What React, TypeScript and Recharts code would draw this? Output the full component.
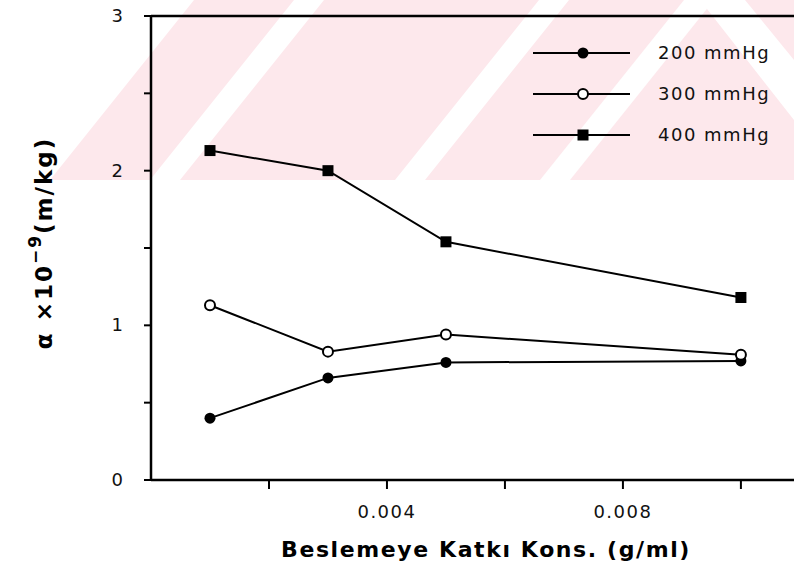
import React from "react";
import { LineChart, Line, XAxis, YAxis, ReferenceLine } from "recharts";

// concentration (g/ml) and alpha x 10^-9 (m/kg) per vacuum level
const conc = [0.001, 0.003, 0.005, 0.01];
const p200 = [0.4, 0.66, 0.76, 0.77];
const p300 = [1.13, 0.83, 0.94, 0.81];
const p400 = [2.13, 2.0, 1.54, 1.18];

const xTicks = [0.002, 0.004, 0.006, 0.008, 0.01];
const xLabels: Record<string, string> = { "0.004": "0.004", "0.008": "0.008" };
const yTicks = [0, 0.5, 1, 1.5, 2, 2.5, 3];
const yLabels: Record<string, string> = { "0": "0", "1": "1", "2": "2", "3": "3" };

const seriesNames = ["200 mmHg", "300 mmHg", "400 mmHg"];
const markers = ["dot", "open", "square"];

const W = 794;
const H = 573;

const data = conc.map((c, i) => ({
  c,
  s200: p200[i],
  s300: p300[i],
  s400: p400[i],
}));

const tickFont = {
  fontFamily: "'DejaVu Sans', sans-serif",
  fontSize: 18,
  letterSpacing: 1.5,
  fill: "#111",
};

const Marker = ({ kind, cx, cy }: { kind: string; cx: number; cy: number }) => {
  if (kind === "square")
    return <rect x={cx - 5.5} y={cy - 5.5} width={11} height={11} fill="#000" />;
  if (kind === "open")
    return <circle cx={cx} cy={cy} r={5} fill="#fff" stroke="#000" strokeWidth={2} />;
  return <circle cx={cx} cy={cy} r={5.5} fill="#000" />;
};

const dotFor = (kind: string) => (props: any) => {
  const { cx, cy, index } = props;
  if (cx == null || cy == null) return <g key={index} />;
  return <Marker key={index} kind={kind} cx={cx} cy={cy} />;
};

const XTick = (props: any) => {
  const { x, payload } = props;
  const label = xLabels[String(payload.value)];
  if (!label) return <g />;
  return (
    <text x={x} y={518} textAnchor="middle" {...tickFont}>
      {label}
    </text>
  );
};

const YTick = (props: any) => {
  const { y, payload } = props;
  const label = yLabels[String(payload.value)];
  if (!label) return <g />;
  return (
    <text x={118} y={y + 6} textAnchor="middle" {...tickFont}>
      {label}
    </text>
  );
};

const LegendBox = () => (
  <svg
    width={260}
    height={120}
    style={{ position: "absolute", left: 533, top: 40, overflow: "visible" }}
  >
    {seriesNames.map((name, i) => {
      const y = 13 + i * 41;
      return (
        <g key={name}>
          <line x1={0} x2={97} y1={y} y2={y} stroke="#000" strokeWidth={2} />
          <Marker kind={markers[i]} cx={50} cy={y} />
          <text x={125} y={y + 6} {...tickFont}>
            {name}
          </text>
        </g>
      );
    })}
  </svg>
);

// faint pink stripes from the scanned page
const Watermark = () => {
  const k = 0.8;
  const band = (b: number, w: number) =>
    `${b},180 ${b + w},180 ${b + w + k * 180},0 ${b + k * 180},0`;
  return (
    <svg width={W} height={H} style={{ position: "absolute", left: 0, top: 0 }}>
      <polygon points={`50,180 ${W},180 ${W},0 ${50 + k * 180},0`} fill="#fde8ec" />
      {[150, 395, 540].map((b) => (
        <polygon key={b} points={band(b, 30)} fill="#fff" />
      ))}
      <polygon points="700,0 745,0 794,60 794,120" fill="#fff" />
    </svg>
  );
};

export default function App() {
  return (
    <div style={{ position: "absolute", left: 0, top: 0, width: W, height: H, background: "#fff" }}>
      <Watermark />
      <div style={{ position: "absolute", left: 0, top: 0 }}>
        <LineChart
          width={W}
          height={H}
          data={data}
          margin={{ top: 16, right: 0, bottom: 0, left: 0 }}
        >
          <XAxis
            dataKey="c"
            type="number"
            domain={[0, 0.0109]}
            allowDataOverflow
            ticks={xTicks}
            tick={<XTick />}
            tickSize={9}
            height={93}
            axisLine={{ stroke: "#000", strokeWidth: 2.5 }}
            tickLine={{ stroke: "#000", strokeWidth: 2 }}
            label={{
              content: () => (
                <text
                  x={486}
                  y={557}
                  textAnchor="middle"
                  fontFamily="'DejaVu Sans', sans-serif"
                  fontWeight="bold"
                  fontSize={22}
                  letterSpacing={1.6}
                  fill="#000"
                >
                  Beslemeye Katkı Kons. (g/ml)
                </text>
              ),
            }}
          />
          <YAxis
            type="number"
            domain={[0, 3]}
            ticks={yTicks}
            tick={<YTick />}
            tickSize={7}
            width={151}
            axisLine={{ stroke: "#000", strokeWidth: 2.5 }}
            tickLine={{ stroke: "#000", strokeWidth: 2 }}
            label={{
              content: () => (
                <text
                  transform="translate(52 243) rotate(-90)"
                  textAnchor="middle"
                  fontFamily="'DejaVu Sans', sans-serif"
                  fontWeight="bold"
                  fontSize={23}
                  letterSpacing={2}
                  fill="#000"
                >
                  α ×10
                  <tspan dy={-11} fontSize={17}>
                    −9
                  </tspan>
                  <tspan dy={11}>(m/kg)</tspan>
                </text>
              ),
            }}
          />
          <ReferenceLine y={3} stroke="#000" strokeWidth={2.5} />
          <Line
            dataKey="s200"
            name={seriesNames[0]}
            stroke="#000"
            strokeWidth={2}
            dot={dotFor("dot")}
            isAnimationActive={false}
          />
          <Line
            dataKey="s300"
            name={seriesNames[1]}
            stroke="#000"
            strokeWidth={2}
            dot={dotFor("open")}
            isAnimationActive={false}
          />
          <Line
            dataKey="s400"
            name={seriesNames[2]}
            stroke="#000"
            strokeWidth={2}
            dot={dotFor("square")}
            isAnimationActive={false}
          />
        </LineChart>
      </div>
      <LegendBox />
    </div>
  );
}
